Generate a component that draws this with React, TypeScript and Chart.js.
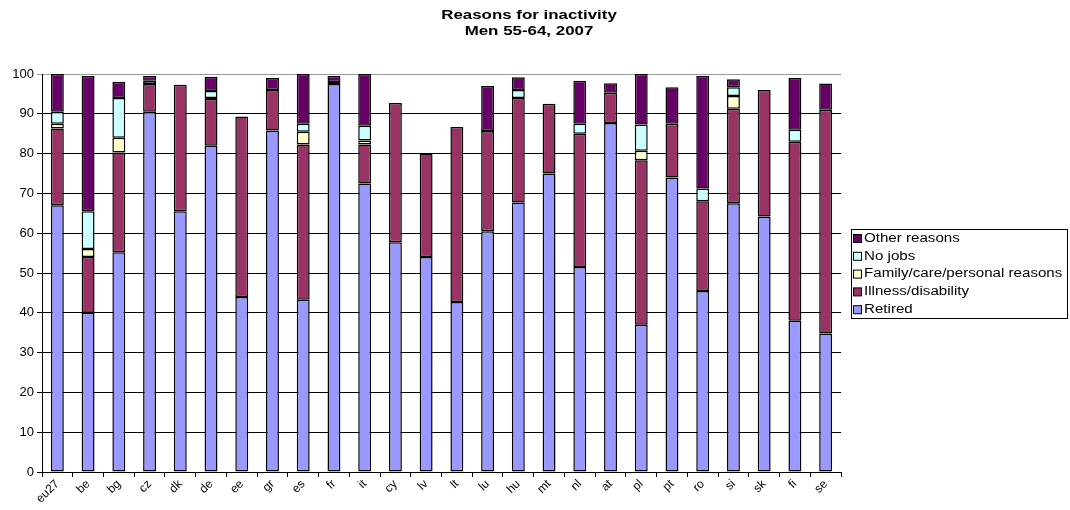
import React, { useEffect, useRef } from "react";
import { Chart, registerables } from "chart.js";

Chart.register(...registerables);

const categories = ["eu27","be","bg","cz","dk","de","ee","gr","es","fr","it","cy","lv","lt","lu","hu","mt","nl","at","pl","pt","ro","si","sk","fi","se"];
const retired =   [67, 40, 55.2, 90.5, 65.5, 82, 44, 85.8, 43.3, 97.5, 72.5, 57.7, 54, 42.7, 60.5, 67.7, 75, 51.5, 87.7, 37, 74, 45.5, 67.5, 64.2, 38, 34.8];
const illness =   [19.3, 14, 25.1, 7, 31.8, 11.7, 45.3, 10.2, 39, 0.5, 9.8, 35, 26, 44, 25.2, 26.3, 17.5, 33.5, 7.6, 41.3, 13.5, 22.5, 23.8, 31.8, 45, 56.2];
const family =    [1.2, 2, 3.7, 0, 0, 0.3, 0, 0, 3.2, 0, 1, 0, 0, 0, 0, 0, 0, 0, 0, 2.4, 0, 0, 3.2, 0, 0, 0];
const noJobs =    [3, 9.5, 10, 0.8, 0, 1.7, 0, 0, 2, 0, 3.7, 0, 0, 0, 0, 2, 0, 2.5, 0, 6.6, 0, 3.2, 2.2, 0, 3, 0];
const other =     [9.5, 34, 4, 1.2, 0, 3.6, 0, 3, 12.5, 1.5, 13, 0, 0, 0, 11.3, 3.2, 0, 10.8, 2.4, 12.7, 9.2, 28.3, 2, 0, 13, 6.6];
const yTicks = [0,10,20,30,40,50,60,70,80,90,100];

const seriesNames = ["Retired","Illness/disability","Family/care/personal reasons","No jobs","Other reasons"];
const seriesColors = ["#9999FF","#993366","#FFFFCC","#CCFFFF","#660066"];

const FONT = "Arial, 'Liberation Sans', sans-serif";

export default function App() {
  const ref = useRef<HTMLCanvasElement>(null);
  useEffect(() => {
    const values = [retired, illness, family, noJobs, other];
    const legendPlugin = {
      id: "boxLegend",
      afterDraw(chart: any) {
        const ctx = chart.ctx;
        const x0 = 851, y0 = 229, w = 216, h = 89;
        ctx.save();
        ctx.fillStyle = "#fff";
        ctx.fillRect(x0, y0, w, h);
        ctx.strokeStyle = "#000";
        ctx.lineWidth = 1;
        ctx.strokeRect(x0 + 0.5, y0 + 0.5, w, h);
        ctx.textBaseline = "middle";
        const ds = chart.data.datasets.slice().reverse();
        ds.forEach((d: any, i: number) => {
          const cy = y0 + 9.5 + i * 17.8;
          ctx.fillStyle = d.backgroundColor;
          ctx.fillRect(x0 + 2.5, cy - 4, 8, 8);
          ctx.strokeStyle = "#000";
          ctx.strokeRect(x0 + 2.5, cy - 4, 8, 8);
          ctx.fillStyle = "#000";
          ctx.save();
          ctx.translate(x0 + 13, cy);
          ctx.scale(1.26, 1);
          ctx.font = "12px " + FONT;
          ctx.fillText(d.label, 0, 0);
          ctx.restore();
        });
        ctx.restore();
      },
    };
    const titlePlugin = {
      id: "twoLineTitle",
      afterDraw(chart: any) {
        const ctx = chart.ctx;
        ctx.save();
        ctx.fillStyle = "#000";
        ctx.font = "bold 13px " + FONT;
        ctx.textAlign = "center";
        ctx.textBaseline = "middle";
        const lines = ["Reasons for inactivity", "Men 55-64, 2007"];
        lines.forEach((t, i) => {
          ctx.save();
          ctx.translate(529, 15 + i * 16);
          ctx.scale(1.3, 1);
          ctx.fillText(t, 0, 0);
          ctx.restore();
        });
        ctx.restore();
      },
    };
    const chart = new Chart(ref.current!, {
      type: "bar",
      data: {
        labels: categories,
        datasets: values.map((v, i) => ({
          label: seriesNames[i],
          data: v.map((x) => (x === 0 ? null : x)),
          backgroundColor: seriesColors[i],
          borderColor: "#000",
          borderWidth: 1.5,
          borderSkipped: false,
          barPercentage: 0.42,
          categoryPercentage: 1,
        })),
      },
      options: {
        responsive: false,
        animation: false,
        layout: { padding: { top: 74, right: 229, left: 0, bottom: 0 } },
        plugins: {
          legend: { display: false },
          title: { display: false },
          tooltip: { enabled: false },
        },
        scales: {
          x: {
            stacked: true,
            afterFit: (s: any) => { s.height = 38; },
            grid: {
              offset: true,
              drawOnChartArea: false,
              drawTicks: true,
              tickLength: 5,
              color: "#000",
            },
            border: { color: "#000", width: 1 },
            ticks: {
              color: "#000",
              font: { family: FONT, size: 12 },
              maxRotation: 45,
              minRotation: 45,
              autoSkip: false,
              padding: 0,
            },
          },
          y: {
            stacked: true,
            min: 0,
            max: 100,
            afterFit: (s: any) => { s.width = 42; },
            afterBuildTicks: (s: any) => { s.ticks = yTicks.map((v) => ({ value: v })); },
            grid: {
              color: (c: any) => (c.tick && c.tick.value === 100 ? "#999" : "#000"),
              tickLength: 5,
              drawTicks: true,
            },
            border: { color: "#000", width: 1 },
            ticks: {
              color: "#000",
              font: { family: FONT, size: 13 },
              padding: 3,
            },
          },
        },
      },
      plugins: [legendPlugin, titlePlugin],
    });
    return () => chart.destroy();
  }, []);
  return (
    <div style={{ position: "fixed", left: 0, top: 0, width: 1070, height: 510, background: "#fff" }}>
      <canvas ref={ref} width={1070} height={510} style={{ width: 1070, height: 510 }} />
    </div>
  );
}
